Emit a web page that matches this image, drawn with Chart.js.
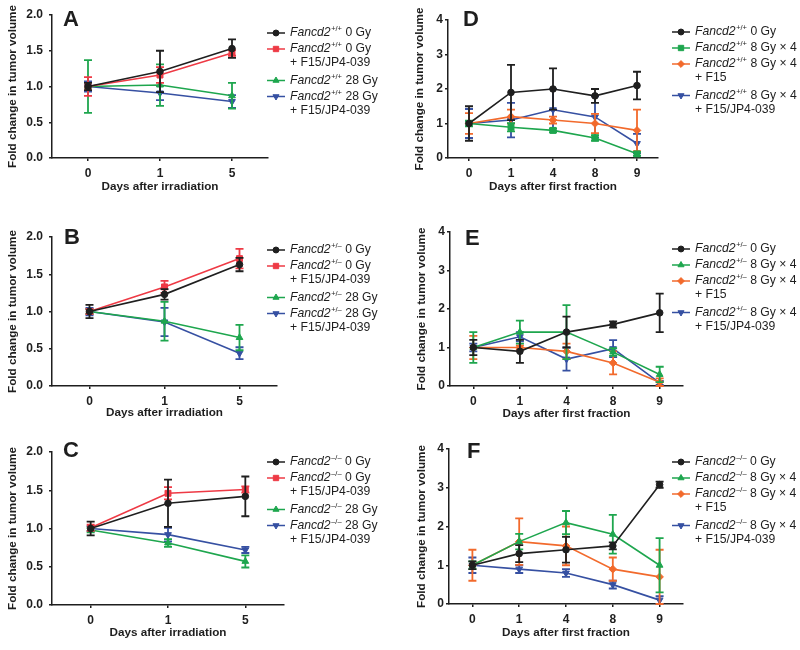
<!DOCTYPE html>
<html><head><meta charset="utf-8">
<script src="https://cdn.jsdelivr.net/npm/chart.js@4.4.1/dist/chart.umd.min.js"></script>
<style>
html,body{margin:0;padding:0;background:#fff;}
body{width:800px;height:650px;position:relative;overflow:hidden;}
canvas{position:absolute;}
</style></head><body>
<canvas id="cA"></canvas><canvas id="cB"></canvas><canvas id="cC"></canvas>
<canvas id="cD"></canvas><canvas id="cE"></canvas><canvas id="cF"></canvas>
<script>
// ---------- categories ----------
const daysIrradiation = ['0', '1', '5'];
const daysFraction = ['0', '1', '4', '8', '9'];
const ticksIrr = [0, 0.5, 1.0, 1.5, 2.0];
const ticksFrac = [0, 1, 2, 3, 4];

// ---------- Panel A (Fancd2 +/+) ----------
const aBlack = [1.00, 1.21, 1.53];  const aBlackErr = [0.05, 0.29, 0.13];
const aRed   = [1.00, 1.16, 1.47];  const aRedErr   = [0.13, 0.11, 0.04];
const aGreen = [1.00, 1.02, 0.87];  const aGreenErr = [0.37, 0.29, 0.18];
const aBlue  = [1.00, 0.91, 0.79];  const aBlueErr  = [0.07, 0.10, 0.09];
// ---------- Panel B (Fancd2 +/-) ----------
const bBlack = [1.00, 1.23, 1.63];  const bBlackErr = [0.09, 0.07, 0.09];
const bRed   = [1.00, 1.33, 1.71];  const bRedErr   = [0.03, 0.08, 0.13];
const bGreen = [1.00, 0.87, 0.65];  const bGreenErr = [0.03, 0.26, 0.17];
const bBlue  = [1.00, 0.86, 0.44];  const bBlueErr  = [0.05, 0.19, 0.08];
// ---------- Panel C (Fancd2 -/-) ----------
const cBlack = [1.00, 1.33, 1.42];  const cBlackErr = [0.09, 0.31, 0.26];
const cRed   = [1.01, 1.46, 1.51];  const cRedErr   = [0.04, 0.08, 0.04];
const cGreen = [0.98, 0.81, 0.57];  const cGreenErr = [0.03, 0.05, 0.08];
const cBlue  = [1.00, 0.92, 0.72];  const cBlueErr  = [0.03, 0.09, 0.04];
// ---------- Panel D (Fancd2 +/+) ----------
const dBlack  = [1.00, 1.90, 2.00, 1.80, 2.10]; const dBlackErr  = [0.50, 0.80, 0.60, 0.20, 0.40];
const dGreen  = [1.00, 0.89, 0.80, 0.58, 0.12]; const dGreenErr  = [0.08, 0.12, 0.06, 0.08, 0.06];
const dOrange = [1.00, 1.20, 1.10, 1.00, 0.80]; const dOrangeErr = [0.30, 0.20, 0.10, 0.28, 0.60];
const dBlue   = [1.00, 1.10, 1.40, 1.19, 0.42]; const dBlueErr   = [0.42, 0.50, 0.60, 0.60, 0.28];
// ---------- Panel E (Fancd2 +/-) ----------
const eBlack  = [1.00, 0.90, 1.40, 1.60, 1.90]; const eBlackErr  = [0.20, 0.30, 0.40, 0.08, 0.50];
const eGreen  = [1.00, 1.40, 1.40, 0.88, 0.30]; const eGreenErr  = [0.40, 0.30, 0.70, 0.10, 0.20];
const eOrange = [1.00, 1.00, 0.90, 0.60, 0.10]; const eOrangeErr = [0.30, 0.05, 0.20, 0.30, 0.10];
const eBlue   = [1.00, 1.28, 0.70, 0.97, 0.08]; const eBlueErr   = [0.10, 0.12, 0.30, 0.22, 0.05];
// ---------- Panel F (Fancd2 -/-) ----------
const fBlack  = [1.00, 1.30, 1.40, 1.50, 3.08]; const fBlackErr  = [0.10, 0.22, 0.33, 0.09, 0.08];
const fGreen  = [1.00, 1.61, 2.10, 1.80, 1.00]; const fGreenErr  = [0.10, 0.20, 0.30, 0.50, 0.70];
const fOrange = [1.00, 1.61, 1.50, 0.90, 0.70]; const fOrangeErr = [0.40, 0.60, 0.50, 0.30, 0.70];
const fBlue   = [1.00, 0.90, 0.80, 0.50, 0.10]; const fBlueErr   = [0.20, 0.10, 0.10, 0.10, 0.10];

// ---------- labels ----------
const gene = 'Fancd2';
const supWT = '+/+', supHet = '+/\u2013', supKO = '\u2013/\u2013';
const restIrr = [' 0 Gy', ' 0 Gy', ' 28 Gy', ' 28 Gy'];
const line2Irr = [null, '+ F15/JP4-039', null, '+ F15/JP4-039'];
const restFrac = [' 0 Gy', ' 8 Gy \u00d7 4', ' 8 Gy \u00d7 4', ' 8 Gy \u00d7 4'];
const line2Frac = [null, null, '+ F15', '+ F15/JP4-039'];
const xTitleIrr = 'Days after irradiation';
const xTitleFrac = 'Days after first fraction';
const yTitle = 'Fold change in tumor volume';

// ---------- styles ----------
const FONT = '"Liberation Sans", Arial, Helvetica, sans-serif';
const TXT = '#1e1e1e', AX = '#1e1e1e';
const C_BLACK = '#1f1f1f', C_RED = '#ee3a45', C_GREEN = '#1ea64e', C_BLUE = '#3650a2', C_ORANGE = '#f26a2c';
const LH = 14;

const M_CIRCLE = {marker:'circle', rot:0, r:3.3};
const M_SQUARE = {marker:'rect', rot:0, r:4.2};
const M_TRI    = {marker:'triangle', rot:0, r:3.9};
const M_TRIDN  = {marker:'triangle', rot:180, r:3.9};
const M_DIAM   = {marker:'rectRot', rot:0, r:3.8};

function series(vals, errs, color, m, sup, rest, line2){
  return {values:vals, errors:errs, color, ...m, sup, rest, line2};
}

const errorBarPlugin = {
  id:'errbars',
  afterDatasetDraw(chart, args){
    const ds = chart.data.datasets[args.index];
    const meta = args.meta; const ys = chart.scales.y; const ctx = chart.ctx;
    ctx.save(); ctx.strokeStyle = ds.borderColor; ctx.lineWidth = 1.8;
    meta.data.forEach((pt, i) => {
      const v = ds.data[i], e = ds.errors[i];
      const top = ys.getPixelForValue(v + e), bot = ys.getPixelForValue(Math.max(0, v - e));
      ctx.beginPath();
      ctx.moveTo(pt.x, top); ctx.lineTo(pt.x, bot);
      ctx.moveTo(pt.x - 4, top); ctx.lineTo(pt.x + 4, top);
      ctx.moveTo(pt.x - 4, bot); ctx.lineTo(pt.x + 4, bot);
      ctx.stroke();
    });
    ctx.restore();
  }
};

function decoPlugin(p){
  return {id:'deco', afterDraw(chart){
    const ctx = chart.ctx;
    ctx.save();
    // panel letter
    ctx.fillStyle = TXT; ctx.textBaseline = 'alphabetic'; ctx.textAlign = 'left';
    ctx.font = `bold 22px ${FONT}`;
    ctx.fillText(p.letter, p.letterX - p.cx, p.letterY - p.cy);
    // legend
    let y = p.legY - p.cy; const lx = p.legX - p.cx; const tx = lx + 23;
    p.series.forEach(s => {
      ctx.strokeStyle = s.color; ctx.lineWidth = 1.5;
      ctx.beginPath(); ctx.moveTo(lx, y); ctx.lineTo(lx + 18, y); ctx.stroke();
      ctx.fillStyle = s.color; ctx.lineWidth = 1;
      Chart.helpers.drawPoint(ctx, {pointStyle:s.marker, rotation:s.rot, radius:s.r * 0.9, borderWidth:1}, lx + 9, y);
      ctx.fillStyle = TXT; ctx.textBaseline = 'middle';
      let x = tx;
      ctx.font = `italic 12.2px ${FONT}`; ctx.fillText(gene, x, y); x += ctx.measureText(gene).width + 0.5;
      ctx.font = `7.5px ${FONT}`; ctx.fillText(s.sup, x, y - 4); x += ctx.measureText(s.sup).width;
      ctx.font = `12.2px ${FONT}`; ctx.fillText(s.rest, x, y);
      if (s.line2) ctx.fillText(s.line2, tx, y + 14);
      y += s.line2 ? 31.5 : 16;
    });
    ctx.restore();
  }};
}

function makePanel(id, p){
  const cv = document.getElementById(id);
  cv.width = p.cw; cv.height = p.ch;
  cv.style.left = p.cx + 'px'; cv.style.top = p.cy + 'px';
  cv.style.width = p.cw + 'px'; cv.style.height = p.ch + 'px';
  const yBoxLeft = p.yTitleX - p.cx - LH / 2;
  const yWidth = p.area.l - p.yTitleX + LH / 2;
  const xBottom = p.xTitleY + LH / 2;
  const xHeight = xBottom - p.area.b;
  new Chart(cv, {
    type:'line',
    data:{labels:p.labels, datasets:p.series.map(s => ({
      data:s.values, errors:s.errors, borderColor:s.color, backgroundColor:s.color,
      pointStyle:s.marker, pointRotation:s.rot, pointRadius:s.r, pointBorderWidth:1,
      pointBackgroundColor:s.color, pointBorderColor:s.color,
      borderWidth:1.6, tension:0, fill:false
    }))},
    options:{
      responsive:false, animation:false, devicePixelRatio:1,
      layout:{padding:{left:yBoxLeft, top:p.area.t - p.cy, right:p.cx + p.cw - p.area.r, bottom:p.cy + p.ch - xBottom}},
      plugins:{legend:{display:false}, tooltip:{enabled:false}},
      scales:{
        x:{type:'category', offset:true,
          grid:{display:true, drawOnChartArea:false, drawTicks:true, tickLength:3, offset:false, color:AX, lineWidth:1.5},
          border:{display:true, color:AX, width:1.5},
          ticks:{color:TXT, font:{family:FONT, size:12, weight:'bold'}, padding:5, maxRotation:0, autoSkip:false},
          title:{display:true, text:p.xTitle, color:TXT, font:{family:FONT, size:11.7, weight:'bold', lineHeight:LH + 'px'}, padding:0},
          afterFit:s => { s.height = xHeight; }
        },
        y:{type:'linear', min:0, max:p.ticks[p.ticks.length - 1],
          afterBuildTicks:s => { s.ticks = p.ticks.map(v => ({value:v})); },
          grid:{display:true, drawOnChartArea:false, drawTicks:true, tickLength:3, color:AX, lineWidth:1.5},
          border:{display:true, color:AX, width:1.5},
          ticks:{color:TXT, font:{family:FONT, size:12, weight:'bold'}, padding:p.yPad,
            callback:v => p.dec ? Number(v).toFixed(1) : String(v)},
          title:{display:true, text:yTitle, color:TXT, font:{family:FONT, size:11.7, weight:'bold', lineHeight:LH + 'px'}, padding:0},
          afterFit:s => { s.width = yWidth; }
        }
      }
    },
    plugins:[errorBarPlugin, decoPlugin(p)]
  });
}

makePanel('cA', {cx:0, cy:0, cw:400, ch:215, area:{l:52, t:15, r:268, b:158}, yTitleX:13, xTitleY:187,
  letter:'A', letterX:63, letterY:26, legX:267, legY:33, labels:daysIrradiation, ticks:ticksIrr, dec:true, yPad:6, xTitle:xTitleIrr,
  series:[series(aBlack, aBlackErr, C_BLACK, M_CIRCLE, supWT, restIrr[0], line2Irr[0]),
          series(aRed, aRedErr, C_RED, M_SQUARE, supWT, restIrr[1], line2Irr[1]),
          series(aGreen, aGreenErr, C_GREEN, M_TRI, supWT, restIrr[2], line2Irr[2]),
          series(aBlue, aBlueErr, C_BLUE, M_TRIDN, supWT, restIrr[3], line2Irr[3])]});

makePanel('cB', {cx:0, cy:210, cw:400, ch:215, area:{l:52, t:237, r:277, b:386}, yTitleX:13, xTitleY:413,
  letter:'B', letterX:64, letterY:244, legX:267, legY:250, labels:daysIrradiation, ticks:ticksIrr, dec:true, yPad:6, xTitle:xTitleIrr,
  series:[series(bBlack, bBlackErr, C_BLACK, M_CIRCLE, supHet, restIrr[0], line2Irr[0]),
          series(bRed, bRedErr, C_RED, M_SQUARE, supHet, restIrr[1], line2Irr[1]),
          series(bGreen, bGreenErr, C_GREEN, M_TRI, supHet, restIrr[2], line2Irr[2]),
          series(bBlue, bBlueErr, C_BLUE, M_TRIDN, supHet, restIrr[3], line2Irr[3])]});

makePanel('cC', {cx:0, cy:420, cw:400, ch:230, area:{l:52, t:452, r:284, b:605}, yTitleX:13, xTitleY:633,
  letter:'C', letterX:63, letterY:457, legX:267, legY:462, labels:daysIrradiation, ticks:ticksIrr, dec:true, yPad:6, xTitle:xTitleIrr,
  series:[series(cBlack, cBlackErr, C_BLACK, M_CIRCLE, supKO, restIrr[0], line2Irr[0]),
          series(cRed, cRedErr, C_RED, M_SQUARE, supKO, restIrr[1], line2Irr[1]),
          series(cGreen, cGreenErr, C_GREEN, M_TRI, supKO, restIrr[2], line2Irr[2]),
          series(cBlue, cBlueErr, C_BLUE, M_TRIDN, supKO, restIrr[3], line2Irr[3])]});

makePanel('cD', {cx:400, cy:0, cw:400, ch:215, area:{l:448, t:20, r:658, b:158}, yTitleX:420, xTitleY:187,
  letter:'D', letterX:463, letterY:26, legX:672, legY:32, labels:daysFraction, ticks:ticksFrac, dec:false, yPad:2, xTitle:xTitleFrac,
  series:[series(dBlack, dBlackErr, C_BLACK, M_CIRCLE, supWT, restFrac[0], line2Frac[0]),
          series(dGreen, dGreenErr, C_GREEN, M_SQUARE, supWT, restFrac[1], line2Frac[1]),
          series(dOrange, dOrangeErr, C_ORANGE, M_DIAM, supWT, restFrac[2], line2Frac[2]),
          series(dBlue, dBlueErr, C_BLUE, M_TRIDN, supWT, restFrac[3], line2Frac[3])]});

makePanel('cE', {cx:400, cy:210, cw:400, ch:215, area:{l:450, t:232, r:683, b:386}, yTitleX:422, xTitleY:414,
  letter:'E', letterX:465, letterY:245, legX:672, legY:249, labels:daysFraction, ticks:ticksFrac, dec:false, yPad:2, xTitle:xTitleFrac,
  series:[series(eBlack, eBlackErr, C_BLACK, M_CIRCLE, supHet, restFrac[0], line2Frac[0]),
          series(eGreen, eGreenErr, C_GREEN, M_TRI, supHet, restFrac[1], line2Frac[1]),
          series(eOrange, eOrangeErr, C_ORANGE, M_DIAM, supHet, restFrac[2], line2Frac[2]),
          series(eBlue, eBlueErr, C_BLUE, M_TRIDN, supHet, restFrac[3], line2Frac[3])]});

makePanel('cF', {cx:400, cy:420, cw:400, ch:230, area:{l:449, t:449, r:683, b:604}, yTitleX:422, xTitleY:633,
  letter:'F', letterX:467, letterY:458, legX:672, legY:462, labels:daysFraction, ticks:ticksFrac, dec:false, yPad:2, xTitle:xTitleFrac,
  series:[series(fBlack, fBlackErr, C_BLACK, M_CIRCLE, supKO, restFrac[0], line2Frac[0]),
          series(fGreen, fGreenErr, C_GREEN, M_TRI, supKO, restFrac[1], line2Frac[1]),
          series(fOrange, fOrangeErr, C_ORANGE, M_DIAM, supKO, restFrac[2], line2Frac[2]),
          series(fBlue, fBlueErr, C_BLUE, M_TRIDN, supKO, restFrac[3], line2Frac[3])]});
</script>
</body></html>
